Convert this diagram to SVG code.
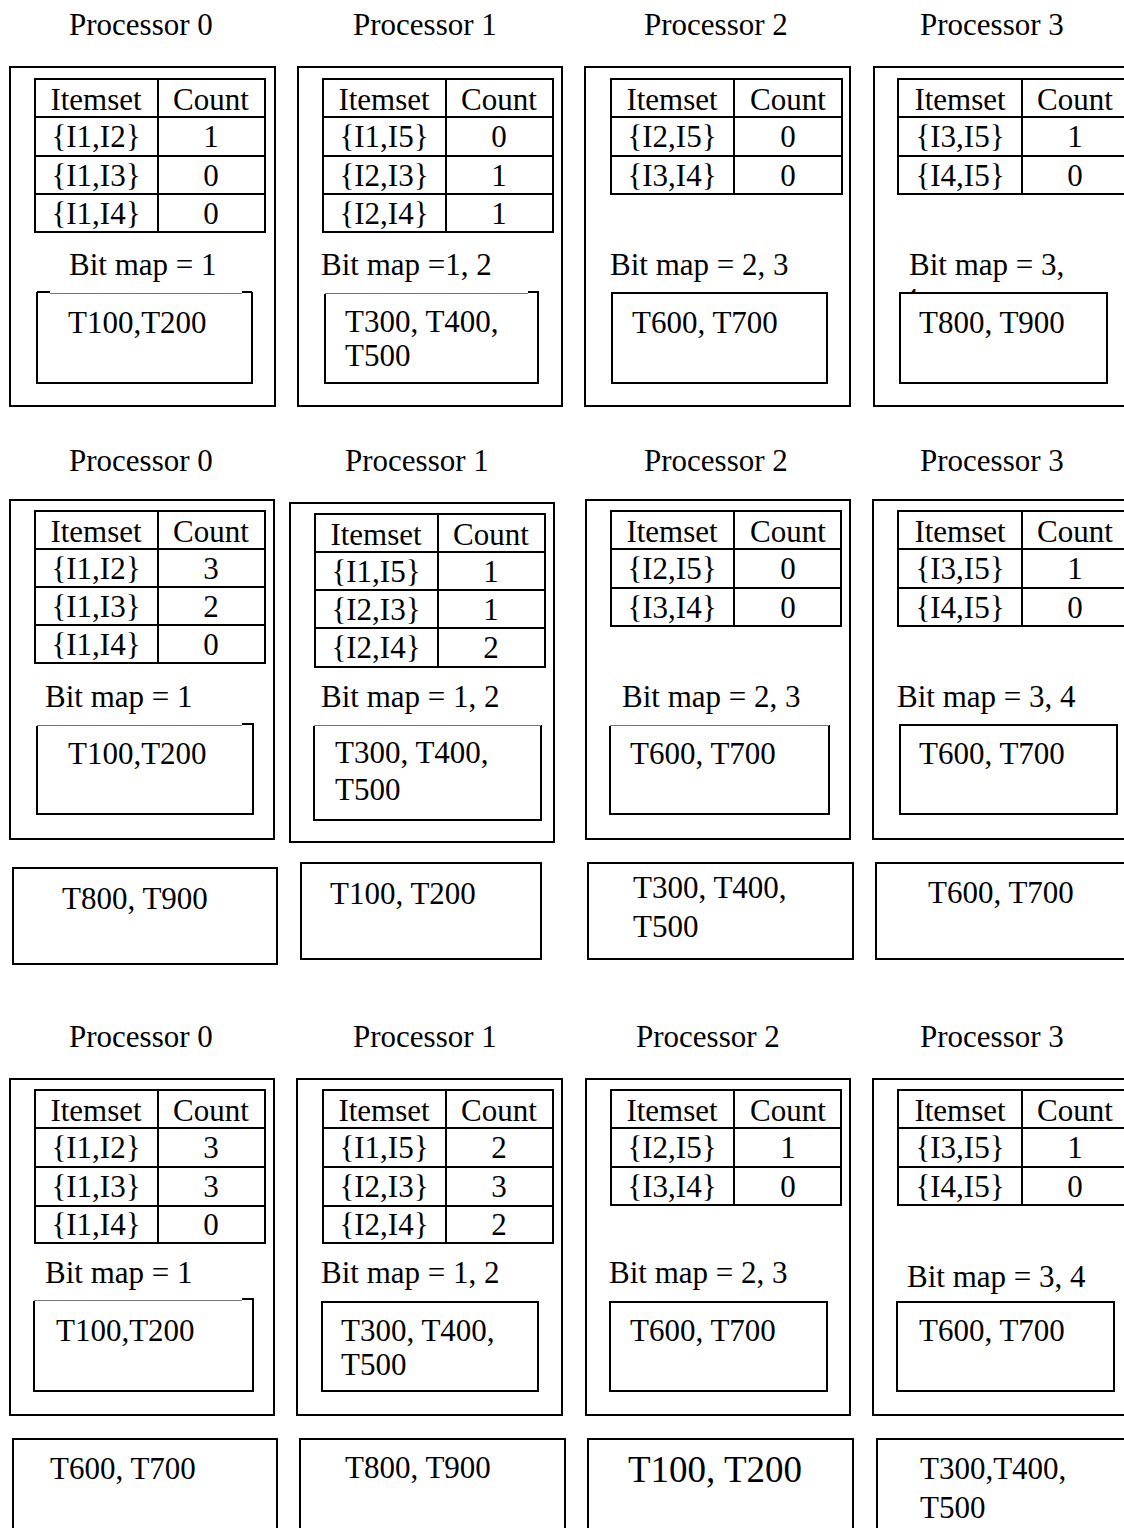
<svg xmlns="http://www.w3.org/2000/svg" width="1124" height="1528" viewBox="0 0 1124 1528">
<style>
.bx{fill:none;stroke:#000;stroke-width:2}
.ln{fill:none;stroke:#000;stroke-width:2}
.th{fill:none;stroke:#777;stroke-width:1}
.t{font-family:"Liberation Serif","Times New Roman",serif;font-size:31px;fill:#000}
.c{text-anchor:middle}
.big{font-size:37px}
</style>
<defs>
<clipPath id="clip4"><rect x="880" y="230" width="240" height="62"/></clipPath>
</defs>
<rect width="1124" height="1528" fill="#fff"/>

<g id="titles">
<text class="t" x="69" y="35">Processor 0</text>
<text class="t" x="353" y="35">Processor 1</text>
<text class="t" x="644" y="35">Processor 2</text>
<text class="t" x="920" y="35">Processor 3</text>
<text class="t" x="69" y="471">Processor 0</text>
<text class="t" x="345" y="471">Processor 1</text>
<text class="t" x="644" y="471">Processor 2</text>
<text class="t" x="920" y="471">Processor 3</text>
<text class="t" x="69" y="1047">Processor 0</text>
<text class="t" x="353" y="1047">Processor 1</text>
<text class="t" x="636" y="1047">Processor 2</text>
<text class="t" x="920" y="1047">Processor 3</text>
</g>

<!-- ROW 1 -->
<g id="r1p0">
<rect class="bx" x="10" y="67" width="265" height="339"/>
<rect class="bx" x="35" y="79" width="230" height="153"/>
<path class="ln" d="M158,79V232M35,117H265M35,156H265M35,194H265"/>
<text class="t c" x="96" y="110">Itemset</text><text class="t c" x="211" y="110">Count</text>
<text class="t c" x="96" y="147">{I1,I2}</text><text class="t c" x="211" y="147">1</text>
<text class="t c" x="96" y="186">{I1,I3}</text><text class="t c" x="211" y="186">0</text>
<text class="t c" x="96" y="224">{I1,I4}</text><text class="t c" x="211" y="224">0</text>
<text class="t" x="69" y="275">Bit map = 1</text>
<path class="ln" d="M37,292V383H252V292M37,292H50M242,292H252"/>
<path class="th" d="M50,293.5H242"/>
<text class="t" x="68" y="333">T100,T200</text>
</g>

<g id="r1p1">
<rect class="bx" x="298" y="67" width="264" height="339"/>
<rect class="bx" x="323" y="79" width="230" height="153"/>
<path class="ln" d="M446,79V232M323,117H553M323,156H553M323,194H553"/>
<text class="t c" x="384" y="110">Itemset</text><text class="t c" x="499" y="110">Count</text>
<text class="t c" x="384" y="147">{I1,I5}</text><text class="t c" x="499" y="147">0</text>
<text class="t c" x="384" y="186">{I2,I3}</text><text class="t c" x="499" y="186">1</text>
<text class="t c" x="384" y="224">{I2,I4}</text><text class="t c" x="499" y="224">1</text>
<text class="t" x="321" y="275">Bit map =1, 2</text>
<path class="ln" d="M325,294V383H538V292H528"/>
<path class="th" d="M325,293.5H528"/>
<text class="t" x="345" y="332">T300, T400,</text>
<text class="t" x="345" y="366">T500</text>
</g>

<g id="r1p2">
<rect class="bx" x="585" y="67" width="265" height="339"/>
<rect class="bx" x="611" y="79" width="231" height="115"/>
<path class="ln" d="M734,79V194M611,117H842M611,156H842"/>
<text class="t c" x="672" y="110">Itemset</text><text class="t c" x="788" y="110">Count</text>
<text class="t c" x="672" y="147">{I2,I5}</text><text class="t c" x="788" y="147">0</text>
<text class="t c" x="672" y="186">{I3,I4}</text><text class="t c" x="788" y="186">0</text>
<text class="t" x="610" y="275">Bit map = 2, 3</text>
<rect class="bx" x="612" y="293" width="215" height="90"/>
<text class="t" x="632" y="333">T600, T700</text>
</g>

<g id="r1p3">
<path class="ln" d="M1130,67H874V406H1130"/>
<path class="ln" d="M1130,79H898V194H1130M1022,79V194M898,117H1130M898,156H1130"/>
<text class="t c" x="960" y="110">Itemset</text><text class="t c" x="1075" y="110">Count</text>
<text class="t c" x="960" y="147">{I3,I5}</text><text class="t c" x="1075" y="147">1</text>
<text class="t c" x="960" y="186">{I4,I5}</text><text class="t c" x="1075" y="186">0</text>
<text class="t" x="909" y="275" clip-path="url(#clip4)">Bit map = 3,<tspan x="903" dy="35">4</tspan></text>
<rect class="bx" x="900" y="293" width="207" height="90"/>
<text class="t" x="919" y="333">T800, T900</text>
</g>

<!-- ROW 2 -->
<g id="r2p0">
<rect class="bx" x="10" y="500" width="264" height="339"/>
<rect class="bx" x="35" y="511" width="230" height="152"/>
<path class="ln" d="M158,511V663M35,549H265M35,587H265M35,625H265"/>
<text class="t c" x="96" y="542">Itemset</text><text class="t c" x="211" y="542">Count</text>
<text class="t c" x="96" y="579">{I1,I2}</text><text class="t c" x="211" y="579">3</text>
<text class="t c" x="96" y="617">{I1,I3}</text><text class="t c" x="211" y="617">2</text>
<text class="t c" x="96" y="655">{I1,I4}</text><text class="t c" x="211" y="655">0</text>
<text class="t" x="45" y="707">Bit map = 1</text>
<path class="ln" d="M37,726V814H253V724H242"/>
<path class="th" d="M37,725.5H242"/>
<text class="t" x="68" y="764">T100,T200</text>
</g>

<g id="r2p1">
<rect class="bx" x="290" y="503" width="264" height="339"/>
<rect class="bx" x="315" y="514" width="230" height="153"/>
<path class="ln" d="M438,514V667M315,552H545M315,590H545M315,628H545"/>
<text class="t c" x="376" y="545">Itemset</text><text class="t c" x="491" y="545">Count</text>
<text class="t c" x="376" y="582">{I1,I5}</text><text class="t c" x="491" y="582">1</text>
<text class="t c" x="376" y="620">{I2,I3}</text><text class="t c" x="491" y="620">1</text>
<text class="t c" x="376" y="658">{I2,I4}</text><text class="t c" x="491" y="658">2</text>
<text class="t" x="321" y="707">Bit map = 1, 2</text>
<path class="ln" d="M314,726V820H541V725"/>
<path class="th" d="M314,725.5H541"/>
<text class="t" x="335" y="763">T300, T400,</text>
<text class="t" x="335" y="800">T500</text>
</g>

<g id="r2p2">
<rect class="bx" x="586" y="500" width="264" height="339"/>
<rect class="bx" x="611" y="511" width="230" height="115"/>
<path class="ln" d="M734,511V626M611,549H841M611,588H841"/>
<text class="t c" x="672" y="542">Itemset</text><text class="t c" x="788" y="542">Count</text>
<text class="t c" x="672" y="579">{I2,I5}</text><text class="t c" x="788" y="579">0</text>
<text class="t c" x="672" y="618">{I3,I4}</text><text class="t c" x="788" y="618">0</text>
<text class="t" x="622" y="707">Bit map = 2, 3</text>
<path class="ln" d="M610,726V814H829V725"/>
<path class="th" d="M610,725.5H829"/>
<text class="t" x="630" y="764">T600, T700</text>
</g>

<g id="r2p3">
<path class="ln" d="M1130,500H873V839H1130"/>
<path class="ln" d="M1130,511H898V626H1130M1022,511V626M898,549H1130M898,588H1130"/>
<text class="t c" x="960" y="542">Itemset</text><text class="t c" x="1075" y="542">Count</text>
<text class="t c" x="960" y="579">{I3,I5}</text><text class="t c" x="1075" y="579">1</text>
<text class="t c" x="960" y="618">{I4,I5}</text><text class="t c" x="1075" y="618">0</text>
<text class="t" x="897" y="707">Bit map = 3, 4</text>
<rect class="bx" x="900" y="725" width="217" height="89"/>
<text class="t" x="919" y="764">T600, T700</text>
</g>

<g id="r2b0">
<rect class="bx" x="13" y="868" width="264" height="96"/>
<text class="t" x="62" y="909">T800, T900</text>
</g>
<g id="r2b1">
<rect class="bx" x="301" y="863" width="240" height="96"/>
<text class="t" x="330" y="904">T100, T200</text>
</g>
<g id="r2b2">
<rect class="bx" x="588" y="863" width="265" height="96"/>
<text class="t" x="633" y="898">T300, T400,</text>
<text class="t" x="633" y="937">T500</text>
</g>
<g id="r2b3">
<path class="ln" d="M1130,863H876V959H1130"/>
<text class="t" x="928" y="903">T600, T700</text>
</g>

<!-- ROW 3 -->
<g id="r3p0">
<rect class="bx" x="10" y="1079" width="264" height="336"/>
<rect class="bx" x="35" y="1090" width="230" height="153"/>
<path class="ln" d="M158,1090V1243M35,1128H265M35,1167H265M35,1206H265"/>
<text class="t c" x="96" y="1121">Itemset</text><text class="t c" x="211" y="1121">Count</text>
<text class="t c" x="96" y="1158">{I1,I2}</text><text class="t c" x="211" y="1158">3</text>
<text class="t c" x="96" y="1197">{I1,I3}</text><text class="t c" x="211" y="1197">3</text>
<text class="t c" x="96" y="1235">{I1,I4}</text><text class="t c" x="211" y="1235">0</text>
<text class="t" x="45" y="1283">Bit map = 1</text>
<path class="ln" d="M34,1301V1391H253V1299H242"/>
<path class="th" d="M34,1300.5H242"/>
<text class="t" x="56" y="1341">T100,T200</text>
</g>

<g id="r3p1">
<rect class="bx" x="297" y="1079" width="265" height="336"/>
<rect class="bx" x="323" y="1090" width="230" height="153"/>
<path class="ln" d="M446,1090V1243M323,1128H553M323,1167H553M323,1206H553"/>
<text class="t c" x="384" y="1121">Itemset</text><text class="t c" x="499" y="1121">Count</text>
<text class="t c" x="384" y="1158">{I1,I5}</text><text class="t c" x="499" y="1158">2</text>
<text class="t c" x="384" y="1197">{I2,I3}</text><text class="t c" x="499" y="1197">3</text>
<text class="t c" x="384" y="1235">{I2,I4}</text><text class="t c" x="499" y="1235">2</text>
<text class="t" x="321" y="1283">Bit map = 1, 2</text>
<rect class="bx" x="322" y="1302" width="216" height="89"/>
<text class="t" x="341" y="1341">T300, T400,</text>
<text class="t" x="341" y="1375">T500</text>
</g>

<g id="r3p2">
<rect class="bx" x="586" y="1079" width="264" height="336"/>
<rect class="bx" x="611" y="1090" width="230" height="115"/>
<path class="ln" d="M734,1090V1205M611,1128H841M611,1167H841"/>
<text class="t c" x="672" y="1121">Itemset</text><text class="t c" x="788" y="1121">Count</text>
<text class="t c" x="672" y="1158">{I2,I5}</text><text class="t c" x="788" y="1158">1</text>
<text class="t c" x="672" y="1197">{I3,I4}</text><text class="t c" x="788" y="1197">0</text>
<text class="t" x="609" y="1283">Bit map = 2, 3</text>
<rect class="bx" x="610" y="1302" width="217" height="89"/>
<text class="t" x="630" y="1341">T600, T700</text>
</g>

<g id="r3p3">
<path class="ln" d="M1130,1079H873V1415H1130"/>
<path class="ln" d="M1130,1090H898V1205H1130M1022,1090V1205M898,1128H1130M898,1167H1130"/>
<text class="t c" x="960" y="1121">Itemset</text><text class="t c" x="1075" y="1121">Count</text>
<text class="t c" x="960" y="1158">{I3,I5}</text><text class="t c" x="1075" y="1158">1</text>
<text class="t c" x="960" y="1197">{I4,I5}</text><text class="t c" x="1075" y="1197">0</text>
<text class="t" x="907" y="1287">Bit map = 3, 4</text>
<rect class="bx" x="897" y="1302" width="217" height="89"/>
<text class="t" x="919" y="1341">T600, T700</text>
</g>

<g id="r3b0">
<path class="ln" d="M13,1535V1439H277V1535"/>
<text class="t" x="50" y="1479">T600, T700</text>
</g>
<g id="r3b1">
<path class="ln" d="M300,1535V1439H565V1535"/>
<text class="t" x="345" y="1478">T800, T900</text>
</g>
<g id="r3b2">
<path class="ln" d="M588,1535V1439H853V1535"/>
<text class="t big" x="628" y="1482">T100, T200</text>
</g>
<g id="r3b3">
<path class="ln" d="M877,1535V1439H1130"/>
<text class="t" x="920" y="1479">T300,T400,</text>
<text class="t" x="920" y="1518">T500</text>
</g>

<g id="connectors"></g>
</svg>
